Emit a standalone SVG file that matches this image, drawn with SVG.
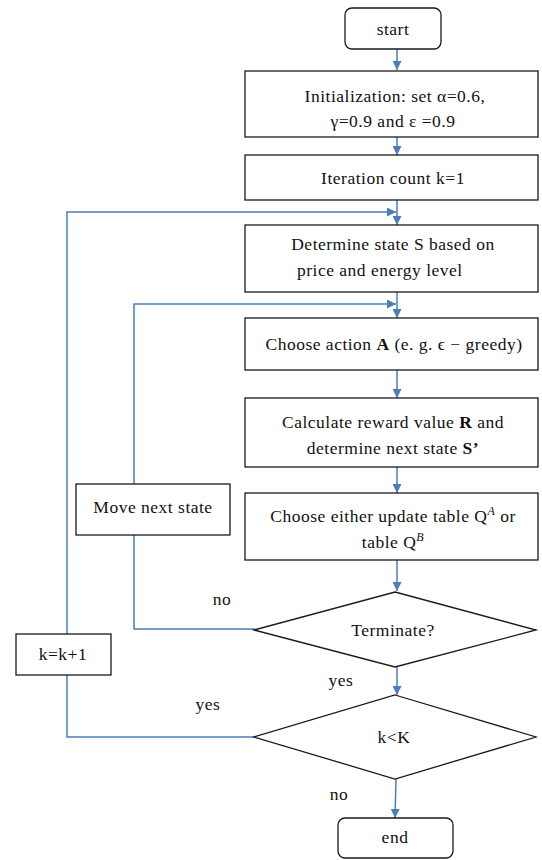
<svg xmlns="http://www.w3.org/2000/svg" width="542" height="860" viewBox="0 0 542 860">
<style>
.box{fill:#fff;stroke:#1a1a1a;stroke-width:1.3}
.con{fill:none;stroke:#4a7ebb;stroke-width:1.5}
.t{font-family:'Liberation Serif','Times New Roman','DejaVu Serif',serif;font-size:17.5px;letter-spacing:0.5px;fill:#111}
.c{text-anchor:middle}
</style>
<defs>
<marker id="ah" viewBox="0 0 10 10" refX="10" refY="5" markerWidth="9" markerHeight="9" markerUnits="userSpaceOnUse" orient="auto">
<path d="M0,0 L10,5 L0,10 z" fill="#4a7ebb"/>
</marker>
</defs>
<rect width="542" height="860" fill="#fff"/>
<g id="connectors">
<line class="con" x1="397" y1="49" x2="397" y2="70" marker-end="url(#ah)"/>
<line class="con" x1="397" y1="137" x2="397" y2="155" marker-end="url(#ah)"/>
<line class="con" x1="397" y1="200" x2="397" y2="225" marker-end="url(#ah)"/>
<line class="con" x1="397" y1="292" x2="397" y2="318" marker-end="url(#ah)"/>
<line class="con" x1="397" y1="370" x2="397" y2="398" marker-end="url(#ah)"/>
<line class="con" x1="397" y1="467" x2="397" y2="493" marker-end="url(#ah)"/>
<line class="con" x1="397" y1="560" x2="397" y2="591" marker-end="url(#ah)"/>
<line class="con" x1="397" y1="667" x2="397" y2="695" marker-end="url(#ah)"/>
<line class="con" x1="396" y1="779" x2="395" y2="818" marker-end="url(#ah)"/>
<polyline class="con" points="255,737 67,737 67,212 396,212" marker-end="url(#ah)"/>
<polyline class="con" points="255,629 134,629 134,304 396,304" marker-end="url(#ah)"/>
</g>
<g id="start">
<rect class="box" x="345" y="8" width="96" height="41" rx="7"/>
<text class="t c" x="393" y="35">start</text>
</g>
<g id="init">
<rect class="box" x="245" y="71" width="293" height="66"/>
<text class="t c" x="395" y="102">Initialization: set α=0.6,</text>
<text class="t c" x="393" y="127">γ=0.9  and ε =0.9</text>
</g>
<g id="iter">
<rect class="box" x="245" y="155" width="293" height="45"/>
<text class="t c" x="393" y="184">Iteration count k=1</text>
</g>
<g id="determine">
<rect class="box" x="245" y="225" width="293" height="67"/>
<text class="t c" x="393" y="250">Determine state S based on</text>
<text class="t" x="297" y="276">price and energy level</text>
</g>
<g id="choose-action">
<rect class="box" x="245" y="318" width="293" height="52"/>
<text class="t c" x="394" y="350">Choose action <tspan font-weight="bold">A</tspan> (e. g. ϵ − greedy)</text>
</g>
<g id="calculate">
<rect class="box" x="245" y="398" width="293" height="69"/>
<text class="t c" x="393" y="428">Calculate reward value <tspan font-weight="bold">R</tspan> and</text>
<text class="t c" x="393" y="454">determine next state <tspan font-weight="bold">S’</tspan></text>
</g>
<g id="choose-table">
<rect class="box" x="245" y="493" width="293" height="67"/>
<text class="t c" x="393" y="522">Choose either update table  Q<tspan font-style="italic" font-size="12px" dy="-7">A</tspan><tspan dy="7">  or</tspan></text>
<text class="t c" x="393" y="548">table  Q<tspan font-style="italic" font-size="12px" dy="-7">B</tspan></text>
</g>
<g id="terminate">
<polygon class="box" points="395,592 536,630 395,667 254,630"/>
<text class="t c" x="393" y="636">Terminate?</text>
</g>
<g id="move-next">
<rect class="box" x="76" y="484" width="154" height="51"/>
<text class="t c" x="153" y="513">Move next state</text>
</g>
<g id="k-inc">
<rect class="box" x="16" y="634" width="95" height="41"/>
<text class="t c" x="63" y="660">k=k+1</text>
</g>
<g id="kK">
<polygon class="box" points="395,695 536,737 395,779 254,737"/>
<text class="t c" x="394" y="743">k&lt;K</text>
</g>
<g id="end">
<rect class="box" x="338" y="818" width="115" height="40" rx="7"/>
<text class="t c" x="395" y="843">end</text>
</g>
<g id="labels">
<text class="t c" x="222" y="605">no</text>
<text class="t c" x="341" y="686">yes</text>
<text class="t c" x="208" y="710">yes</text>
<text class="t c" x="339" y="800">no</text>
</g>
</svg>
